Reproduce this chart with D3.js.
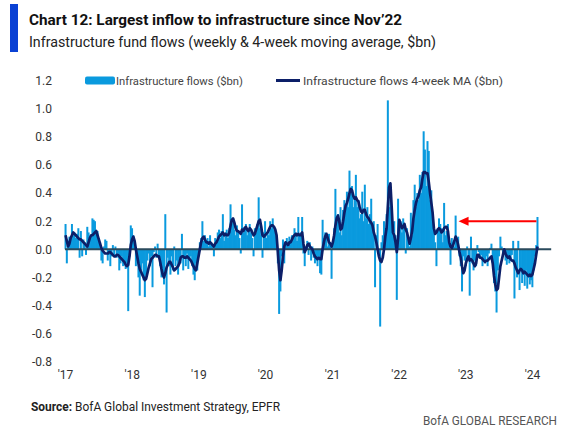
<!DOCTYPE html>
<html>
<head>
<meta charset="utf-8">
<script src="https://cdn.jsdelivr.net/npm/d3@7"></script>
<style>
  html, body { margin: 0; padding: 0; background: #fff; }
  svg { display: block; }
  text { font-family: Roboto, "Liberation Sans", sans-serif; }
</style>
</head>
<body>
<div id="chart"></div>
<script>
// ---------- DATA ----------
const firstWeek = "2017-01-04";           // first weekly observation
const flows = [                             // weekly infrastructure fund flows ($bn)
  // 2017
  0.18,-0.10,0.06,0.09,0.05,0.18,0.10,0.12,0.08,0.11,
  0.15,-0.06,0.13,-0.05,0.07,0.05,-0.04,0.16,0.12,0.08,
  0.10,0.22,0.21,0.20,0.12,0.13,0.08,0.05,-0.08,-0.10,
  0.02,0.07,0.06,-0.08,-0.04,-0.12,-0.05,0.03,-0.05,0.02,
  -0.06,-0.03,-0.15,-0.10,-0.05,-0.12,-0.08,-0.14,-0.10,-0.44,
  -0.05,0.17,
  // 2018
  0.15,0.10,0.02,-0.12,-0.08,-0.20,-0.33,-0.15,-0.10,-0.22,
  -0.34,-0.18,-0.08,-0.03,-0.12,-0.05,-0.27,-0.02,0.02,-0.06,
  0.04,-0.05,-0.12,-0.20,-0.15,-0.25,0.25,-0.45,-0.06,-0.12,
  -0.18,-0.05,-0.15,0.02,-0.12,-0.08,-0.18,-0.06,-0.10,0.11,
  -0.15,-0.05,-0.12,-0.03,-0.14,-0.08,-0.05,-0.12,-0.18,-0.22,
  -0.10,-0.15,
  // 2019
  -0.05,0.05,0.08,0.20,0.06,0.10,0.05,0.08,0.02,0.10,
  0.05,0.03,-0.05,0.08,0.06,0.12,0.14,0.08,0.13,0.25,
  0.06,0.12,0.14,0.08,0.15,0.32,0.18,0.20,0.14,0.10,
  0.17,0.12,0.08,-0.03,0.32,0.12,0.16,0.18,0.10,0.14,
  0.18,0.12,0.08,-0.05,0.15,0.12,0.18,0.37,0.15,0.10,
  -0.06,0.12,
  // 2020
  0.20,0.08,0.12,0.10,0.20,0.15,0.22,0.14,0.12,0.08,
  -0.10,-0.46,-0.30,-0.05,0.07,-0.10,0.05,0.08,0.02,0.09,
  0.05,0.10,0.08,0.15,0.12,0.06,0.23,0.10,0.12,0.23,
  -0.03,-0.12,0.02,0.06,-0.04,0.05,-0.08,0.02,-0.06,-0.10,
  -0.08,-0.12,-0.05,-0.17,-0.18,0.21,0.08,0.12,0.10,0.02,
  0.11,0.05,
  // 2021
  -0.21,0.05,0.15,0.43,0.20,0.25,0.12,0.30,0.10,0.28,
  0.35,0.30,0.41,0.30,0.56,0.40,0.45,0.30,0.38,0.53,
  0.30,0.35,0.22,0.25,0.41,0.20,0.46,0.22,0.30,0.18,
  0.25,0.36,0.15,0.20,-0.27,0.10,0.18,-0.05,-0.55,0.05,
  0.10,0.20,0.14,0.25,1.06,0.30,0.38,0.30,0.18,0.20,
  0.10,-0.36,
  // 2022
  0.36,0.15,0.20,0.12,0.22,0.18,-0.03,0.15,0.05,0.02,
  0.26,0.10,0.35,0.46,0.30,0.40,0.35,0.53,0.40,0.55,
  0.84,0.71,0.45,0.77,0.70,0.35,0.42,0.25,0.15,0.05,
  -0.12,0.15,0.22,0.18,0.15,0.05,0.33,0.10,0.13,0.18,
  0.05,-0.11,0.08,0.05,0.02,0.24,0.05,0.09,-0.05,-0.12,
  -0.30,-0.05,
  // 2023
  -0.08,-0.12,0.02,-0.05,-0.33,0.09,-0.10,-0.15,-0.08,-0.12,
  0.03,-0.02,-0.06,-0.04,-0.12,-0.08,-0.10,-0.05,-0.12,-0.03,
  0.01,0.04,-0.10,-0.24,-0.30,-0.45,-0.15,-0.05,0.09,0.02,
  -0.04,-0.02,-0.08,-0.11,-0.05,-0.10,-0.08,-0.04,0.06,-0.35,
  -0.12,-0.20,0.06,-0.29,-0.15,-0.24,-0.18,-0.26,-0.15,-0.28,
  -0.20,-0.25,
  // 2024
  -0.22,-0.27,-0.15,-0.05,0.03,0.23
];
const flowsMA = [                           // 4-week moving average ($bn)
  // 2017
  0.10,0.06,0.02,0.04,0.08,0.10,0.12,0.11,0.10,0.09,
  0.08,0.07,0.07,0.06,0.05,0.04,0.03,0.02,0.05,0.08,
  0.10,0.10,0.11,0.12,0.13,0.10,0.07,0.04,0.01,-0.01,
  -0.02,-0.03,-0.03,-0.03,-0.02,-0.02,-0.03,-0.04,-0.05,-0.05,
  -0.04,-0.04,-0.05,-0.06,-0.07,-0.08,-0.09,-0.11,-0.12,-0.11,
  -0.05,0.03,
  // 2018
  0.07,0.09,0.06,0.00,-0.05,-0.10,-0.14,-0.16,-0.18,-0.20,
  -0.22,-0.21,-0.17,-0.13,-0.10,-0.07,-0.06,-0.05,-0.04,-0.04,
  -0.05,-0.05,-0.09,-0.14,-0.18,-0.20,-0.17,-0.13,-0.11,-0.09,
  -0.09,-0.11,-0.13,-0.15,-0.14,-0.13,-0.12,-0.10,-0.06,-0.05,
  -0.05,-0.06,-0.06,-0.05,-0.06,-0.07,-0.08,-0.10,-0.12,-0.14,
  -0.15,-0.10,
  // 2019
  -0.05,0.00,0.05,0.08,0.09,0.07,0.05,0.05,0.04,0.05,
  0.04,0.03,0.02,0.04,0.05,0.07,0.09,0.10,0.11,0.12,
  0.10,0.11,0.10,0.10,0.12,0.17,0.21,0.22,0.19,0.15,
  0.13,0.13,0.12,0.11,0.14,0.13,0.15,0.16,0.14,0.13,
  0.15,0.14,0.12,0.10,0.11,0.14,0.17,0.20,0.21,0.16,
  0.10,0.09,
  // 2020
  0.10,0.11,0.12,0.14,0.16,0.17,0.17,0.16,0.14,0.10,
  -0.02,-0.15,-0.22,-0.15,-0.05,0.02,0.05,0.04,0.03,0.05,
  0.05,0.07,0.09,0.10,0.11,0.10,0.11,0.10,0.10,0.12,
  0.04,-0.02,0.00,0.03,0.04,0.02,0.01,0.00,-0.03,-0.05,
  -0.06,-0.07,-0.06,-0.07,-0.07,0.00,0.05,0.09,0.11,0.08,
  0.05,0.04,
  // 2021
  0.02,0.05,0.10,0.17,0.22,0.24,0.20,0.14,0.15,0.20,
  0.26,0.31,0.33,0.36,0.40,0.43,0.42,0.38,0.36,0.37,
  0.35,0.34,0.30,0.27,0.26,0.28,0.28,0.25,0.23,0.22,
  0.20,0.19,0.17,0.12,0.09,0.05,0.00,-0.05,-0.08,-0.09,
  -0.06,0.00,0.09,0.15,0.30,0.44,0.47,0.30,0.12,0.10,
  0.05,-0.02,
  // 2022
  0.08,0.21,0.18,0.15,0.16,0.18,0.14,0.12,0.08,0.04,
  0.08,0.13,0.22,0.28,0.33,0.36,0.38,0.42,0.44,0.50,
  0.55,0.55,0.54,0.54,0.48,0.40,0.33,0.26,0.15,0.11,
  0.12,0.14,0.15,0.14,0.12,0.13,0.15,0.16,0.16,0.13,
  0.05,0.02,0.01,0.03,0.06,0.09,0.07,0.03,-0.02,-0.06,
  -0.12,-0.17,
  // 2023
  -0.15,-0.10,-0.07,-0.05,-0.08,-0.07,-0.08,-0.10,-0.12,-0.10,
  -0.04,-0.04,-0.06,-0.06,-0.07,-0.08,-0.09,-0.08,-0.08,-0.07,
  -0.06,-0.05,-0.10,-0.19,-0.25,-0.29,-0.28,-0.20,-0.12,-0.08,
  -0.04,0.00,-0.03,-0.05,-0.06,-0.05,-0.07,-0.08,-0.08,-0.10,
  -0.13,-0.15,-0.17,-0.15,-0.14,-0.15,-0.17,-0.16,-0.17,-0.18,
  -0.19,-0.18,
  // 2024
  -0.19,-0.18,-0.14,-0.10,-0.04,0.02
];
const yTicks = [-0.8,-0.6,-0.4,-0.2,0.0,0.2,0.4,0.6,0.8,1.0,1.2];
const xTickYears = [2017,2018,2019,2020,2021,2022,2023,2024];
const xTickLabels = ["'17","'18","'19","'20","'21","'22","'23","'24"];
const arrowFrom = "2024-01-25", arrowTo = "2022-11-25", arrowLevel = 0.2;
const legendLabels = ["Infrastructure flows ($bn)", "Infrastructure flows 4-week MA ($bn)"];

// ---------- CHART ----------
const W = 563, H = 430;
const barColor = "#0a9ade", maColor = "#0c1f68";
const svg = d3.select("#chart").append("svg").attr("width", W).attr("height", H);

const parse = d3.utcParse("%Y-%m-%d");
const start = parse(firstWeek);
const rows = flows.map((v, i) => ({ date: d3.utcDay.offset(start, 7 * i), v, ma: flowsMA[i] }));

const x = d3.scaleUtc()
  .domain([Date.UTC(2017, 0, 1), Date.UTC(2024, 0, 1)])
  .range([65, 532]);
const y = d3.scaleLinear().domain([-0.8, 1.2]).range([361.7, 80.7]);

// Title block
svg.append("rect").attr("x", 10).attr("y", 4).attr("width", 8).attr("height", 48).attr("fill", "#0a41d4");
svg.append("text").attr("x", 29).attr("y", 25)
  .attr("font-size", 15.5).attr("font-weight", 700).attr("fill", "#111")
  .attr("textLength", 373).attr("lengthAdjust", "spacingAndGlyphs")
  .text("Chart 12: Largest inflow to infrastructure since Nov\u201922");
svg.append("text").attr("x", 29).attr("y", 47)
  .attr("font-size", 15).attr("fill", "#222")
  .attr("textLength", 407).attr("lengthAdjust", "spacingAndGlyphs")
  .text("Infrastructure fund flows (weekly & 4-week moving average, $bn)");

// Y axis labels
const yAxis = d3.axisLeft(y).tickValues(yTicks).tickSize(0).tickPadding(0)
  .tickFormat(d => d.toFixed(1));
const gy = svg.append("g").attr("transform", "translate(52,0)").call(yAxis);
gy.select(".domain").remove();
gy.selectAll("text").attr("font-size", 12).attr("fill", "#333")
  .attr("font-family", "Roboto, sans-serif");

// X axis labels
const xAxis = d3.axisBottom(x)
  .tickValues(xTickYears.map(yr => new Date(Date.UTC(yr, 0, 1))))
  .tickSize(0).tickPadding(0)
  .tickFormat((d, i) => xTickLabels[i]);
const gx = svg.append("g").attr("transform", "translate(0,370)").call(xAxis);
gx.select(".domain").remove();
gx.selectAll("text").attr("font-size", 12).attr("fill", "#333")
  .attr("font-family", "Roboto, sans-serif").attr("dy", "0.71em");

// Bars
const bw = 2;
svg.append("g").selectAll("rect").data(rows).join("rect")
  .attr("x", d => x(d.date) - bw / 2)
  .attr("width", bw)
  .attr("y", d => y(Math.max(0, d.v)))
  .attr("height", d => Math.abs(y(d.v) - y(0)))
  .attr("fill", barColor);

// Zero line
svg.append("line")
  .attr("x1", x(Date.UTC(2017, 0, 1))).attr("x2", x(Date.UTC(2024, 3, 15)))
  .attr("y1", y(0)).attr("y2", y(0))
  .attr("stroke", "#2a4a5c").attr("stroke-width", 2);

// MA line
svg.append("path").datum(rows)
  .attr("d", d3.line().x(d => x(d.date)).y(d => y(d.ma)))
  .attr("fill", "none").attr("stroke", maColor).attr("stroke-width", 2.7)
  .attr("stroke-linejoin", "round");

// Red arrow
const ax1 = x(parse(arrowFrom)), ax2 = x(parse(arrowTo)), ay = y(arrowLevel);
svg.append("line").attr("x1", ax1).attr("x2", ax2 + 6).attr("y1", ay).attr("y2", ay)
  .attr("stroke", "#ff0000").attr("stroke-width", 2);
svg.append("path")
  .attr("d", `M${ax2},${ay} L${ax2 + 10},${ay - 4.5} L${ax2 + 10},${ay + 4.5} Z`)
  .attr("fill", "#ff0000");

// Legend
svg.append("rect").attr("x", 85).attr("y", 76.5).attr("width", 30).attr("height", 8).attr("rx", 2)
  .attr("fill", barColor);
svg.append("text").attr("x", 116).attr("y", 84.5).attr("font-size", 11.5).attr("fill", "#444")
  .attr("textLength", 127).attr("lengthAdjust", "spacingAndGlyphs").text(legendLabels[0]);
svg.append("line").attr("x1", 276).attr("x2", 300).attr("y1", 80.5).attr("y2", 80.5)
  .attr("stroke", maColor).attr("stroke-width", 3);
svg.append("text").attr("x", 303).attr("y", 84.5).attr("font-size", 11.5).attr("fill", "#444")
  .attr("textLength", 200).attr("lengthAdjust", "spacingAndGlyphs").text(legendLabels[1]);

// Source & footer
const src = svg.append("text").attr("x", 31).attr("y", 411).attr("font-size", 12.5).attr("fill", "#222")
  .attr("textLength", 249).attr("lengthAdjust", "spacingAndGlyphs");
src.append("tspan").attr("font-weight", 700).text("Source:");
src.append("tspan").text(" BofA Global Investment Strategy, EPFR");
svg.append("text").attr("x", 423).attr("y", 425).attr("font-size", 12).attr("fill", "#555")
  .attr("textLength", 134).attr("lengthAdjust", "spacingAndGlyphs").text("BofA GLOBAL RESEARCH");
</script>
</body>
</html>
